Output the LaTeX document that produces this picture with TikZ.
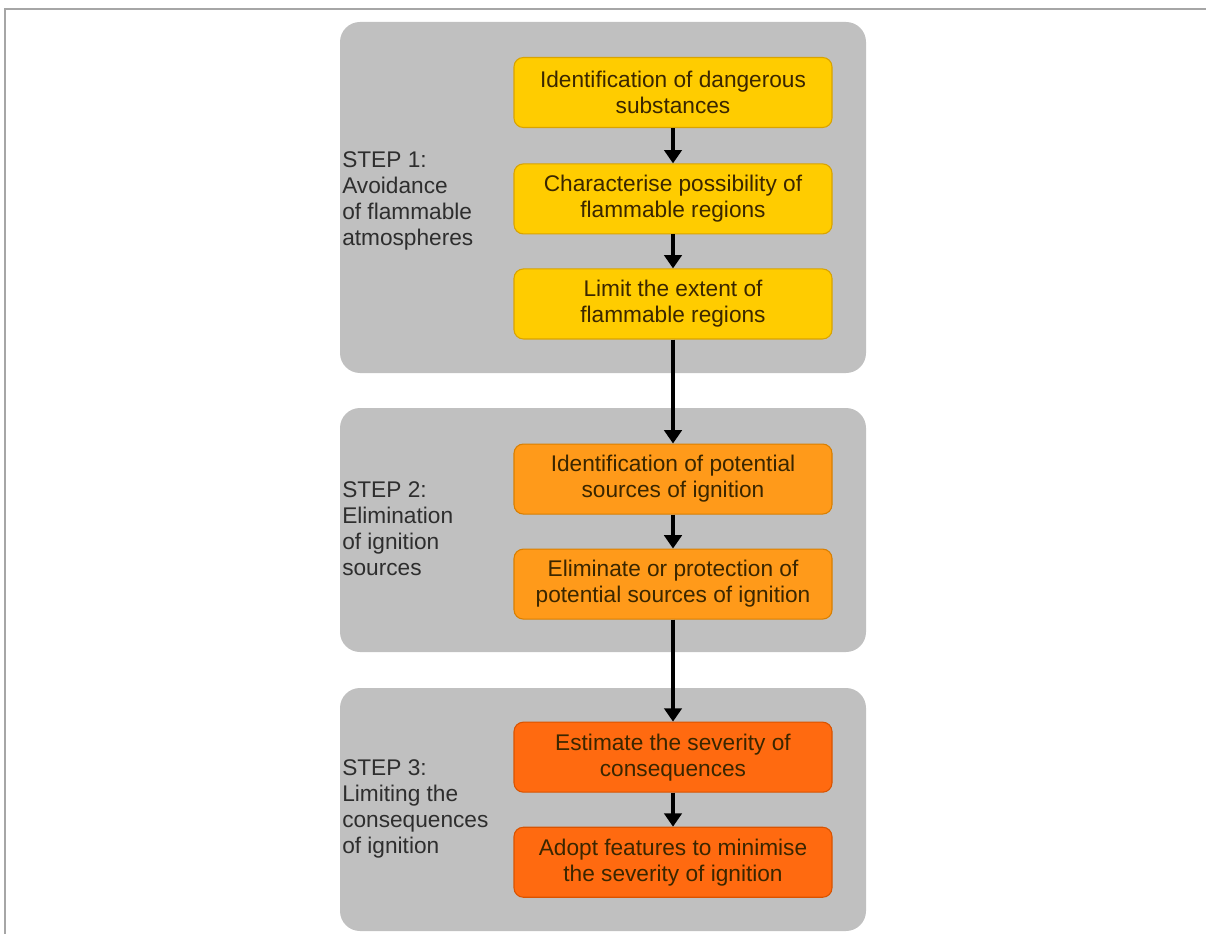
\documentclass[tikz,border=0pt]{standalone}
\usepackage{fontspec}
\setmainfont{Liberation Sans}
\usetikzlibrary{arrows.meta,positioning}
\definecolor{panelgrey}{HTML}{C0C0C0}
\definecolor{frameline}{HTML}{A6A6A6}
\definecolor{yellowbox}{HTML}{FFCC00}
\definecolor{yellowedge}{HTML}{D9A300}
\definecolor{amberbox}{HTML}{FF9A1A}
\definecolor{amberedge}{HTML}{D97F00}
\definecolor{redbox}{HTML}{FF6A10}
\definecolor{rededge}{HTML}{D95300}
\definecolor{boxtext}{HTML}{3A2600}
\definecolor{labeltext}{HTML}{2E2E2E}

\begin{document}
\begin{tikzpicture}[x=0.75pt,y=-0.75pt,
  node distance=25.5pt,
  panel/.style={fill=panelgrey,rounded corners=15pt},
  stepbox/.style={rounded corners=7pt,minimum width=238.5pt,minimum height=52.5pt,
    inner sep=1pt,align=center,text=boxtext,line width=0.8pt,
    font=\fontsize{17}{19.5}\selectfont},
  steplabel/.style={anchor=west,align=left,inner sep=0pt,text=labeltext,
    font=\fontsize{17}{19.5}\selectfont},
  arr/.style={-{Triangle[length=10pt,width=13pt]},line width=3.2pt}]
\useasboundingbox (0,0) rectangle (1206,934);
\draw[frameline,line width=1.5pt] (5,934) -- (5,9.5) -- (1206,9.5);
% grey panels
\fill[panel] (340,22) rectangle (866,373);
\fill[panel] (340,408) rectangle (866,652);
\fill[panel] (340,688) rectangle (866,931);
% step 1
\node[stepbox,fill=yellowbox,draw=yellowedge] (subst) at (673,92.5)
  {Identification of dangerous\\substances};
\node[stepbox,fill=yellowbox,draw=yellowedge,below=26.5pt of subst] (charact)
  {Characterise possibility of\\flammable regions};
\node[stepbox,fill=yellowbox,draw=yellowedge,below=of charact] (limit)
  {Limit the extent of\\flammable regions};
% step 2
\node[stepbox,fill=amberbox,draw=amberedge,below=78pt of limit] (sources)
  {Identification of potential\\sources of ignition};
\node[stepbox,fill=amberbox,draw=amberedge,below=of sources] (elim)
  {Eliminate or protection of\\potential sources of ignition};
% step 3
\node[stepbox,fill=redbox,draw=rededge,below=76.5pt of elim] (sever)
  {Estimate the severity of\\consequences};
\node[stepbox,fill=redbox,draw=rededge,below=of sever] (adopt)
  {Adopt features to minimise\\the severity of ignition};
% labels
\node[steplabel] (lab1) at (342,201) {STEP 1:\\Avoidance\\of flammable\\atmospheres};
\node[steplabel] (lab2) at (342,529) {STEP 2:\\Elimination\\of ignition\\sources};
\node[steplabel] (lab3) at (342,809) {STEP 3:\\Limiting the\\consequences\\of ignition};
\draw[arr] (subst) -- (charact);
\draw[arr] (charact) -- (limit);
\draw[arr] (limit) -- (sources);
\draw[arr] (sources) -- (elim);
\draw[arr] (elim) -- (sever);
\draw[arr] (sever) -- (adopt);
\end{tikzpicture}
\end{document}
